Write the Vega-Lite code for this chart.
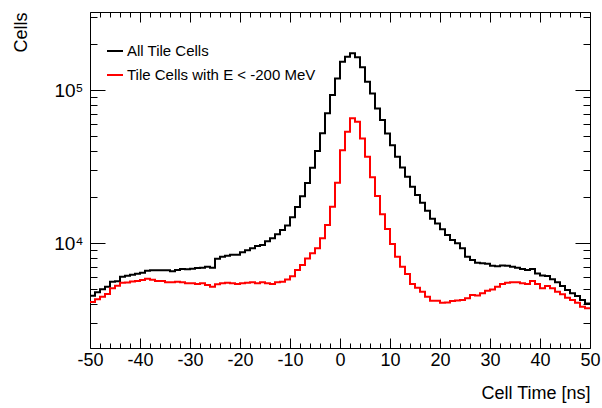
{
  "$schema": "https://vega.github.io/schema/vega-lite/v6.json",
  "width": 500,
  "height": 336,
  "autosize": {"type": "none"},
  "padding": {"left": 90, "top": 12, "right": 12, "bottom": 60},
  "background": "white",
  "config": {
    "view": {"stroke": "black", "strokeWidth": 1},
    "font": "Liberation Sans",
    "axis": {"domain": false, "grid": false, "tickColor": "black", "tickWidth": 1, "labelColor": "black", "titleColor": "black", "labelFont": "Liberation Sans", "titleFont": "Liberation Sans", "titleFontWeight": "normal", "labelOverlap": false, "labelBound": false, "labelFlush": false}
  },
  "data": {
    "values": [
      {"t": -50, "series": "All Tile Cells", "n": 4550},
      {"t": -49, "series": "All Tile Cells", "n": 4790},
      {"t": -48, "series": "All Tile Cells", "n": 5020},
      {"t": -47, "series": "All Tile Cells", "n": 5200},
      {"t": -46, "series": "All Tile Cells", "n": 5610},
      {"t": -45, "series": "All Tile Cells", "n": 5650},
      {"t": -44, "series": "All Tile Cells", "n": 6050},
      {"t": -43, "series": "All Tile Cells", "n": 6140},
      {"t": -42, "series": "All Tile Cells", "n": 6230},
      {"t": -41, "series": "All Tile Cells", "n": 6330},
      {"t": -40, "series": "All Tile Cells", "n": 6420},
      {"t": -39, "series": "All Tile Cells", "n": 6620},
      {"t": -38, "series": "All Tile Cells", "n": 6660},
      {"t": -37, "series": "All Tile Cells", "n": 6660},
      {"t": -36, "series": "All Tile Cells", "n": 6660},
      {"t": -35, "series": "All Tile Cells", "n": 6660},
      {"t": -34, "series": "All Tile Cells", "n": 6560},
      {"t": -33, "series": "All Tile Cells", "n": 6690},
      {"t": -32, "series": "All Tile Cells", "n": 6790},
      {"t": -31, "series": "All Tile Cells", "n": 6760},
      {"t": -30, "series": "All Tile Cells", "n": 6830},
      {"t": -29, "series": "All Tile Cells", "n": 6900},
      {"t": -28, "series": "All Tile Cells", "n": 6930},
      {"t": -27, "series": "All Tile Cells", "n": 7040},
      {"t": -26, "series": "All Tile Cells", "n": 6930},
      {"t": -25, "series": "All Tile Cells", "n": 7930},
      {"t": -24, "series": "All Tile Cells", "n": 8180},
      {"t": -23, "series": "All Tile Cells", "n": 8300},
      {"t": -22, "series": "All Tile Cells", "n": 8420},
      {"t": -21, "series": "All Tile Cells", "n": 8420},
      {"t": -20, "series": "All Tile Cells", "n": 8730},
      {"t": -19, "series": "All Tile Cells", "n": 9000},
      {"t": -18, "series": "All Tile Cells", "n": 9270},
      {"t": -17, "series": "All Tile Cells", "n": 9600},
      {"t": -16, "series": "All Tile Cells", "n": 9750},
      {"t": -15, "series": "All Tile Cells", "n": 10300},
      {"t": -14, "series": "All Tile Cells", "n": 10780},
      {"t": -13, "series": "All Tile Cells", "n": 11450},
      {"t": -12, "series": "All Tile Cells", "n": 12200},
      {"t": -11, "series": "All Tile Cells", "n": 13100},
      {"t": -10, "series": "All Tile Cells", "n": 14800},
      {"t": -9, "series": "All Tile Cells", "n": 17300},
      {"t": -8, "series": "All Tile Cells", "n": 20300},
      {"t": -7, "series": "All Tile Cells", "n": 24800},
      {"t": -6, "series": "All Tile Cells", "n": 31200},
      {"t": -5, "series": "All Tile Cells", "n": 40100},
      {"t": -4, "series": "All Tile Cells", "n": 52400},
      {"t": -3, "series": "All Tile Cells", "n": 70800},
      {"t": -2, "series": "All Tile Cells", "n": 93100},
      {"t": -1, "series": "All Tile Cells", "n": 119700},
      {"t": 0, "series": "All Tile Cells", "n": 153800},
      {"t": 1, "series": "All Tile Cells", "n": 165800},
      {"t": 2, "series": "All Tile Cells", "n": 174600},
      {"t": 3, "series": "All Tile Cells", "n": 164500},
      {"t": 4, "series": "All Tile Cells", "n": 141300},
      {"t": 5, "series": "All Tile Cells", "n": 113800},
      {"t": 6, "series": "All Tile Cells", "n": 95500},
      {"t": 7, "series": "All Tile Cells", "n": 76200},
      {"t": 8, "series": "All Tile Cells", "n": 63900},
      {"t": 9, "series": "All Tile Cells", "n": 52200},
      {"t": 10, "series": "All Tile Cells", "n": 43700},
      {"t": 11, "series": "All Tile Cells", "n": 36800},
      {"t": 12, "series": "All Tile Cells", "n": 31300},
      {"t": 13, "series": "All Tile Cells", "n": 27200},
      {"t": 14, "series": "All Tile Cells", "n": 23400},
      {"t": 15, "series": "All Tile Cells", "n": 20700},
      {"t": 16, "series": "All Tile Cells", "n": 18400},
      {"t": 17, "series": "All Tile Cells", "n": 16300},
      {"t": 18, "series": "All Tile Cells", "n": 14500},
      {"t": 19, "series": "All Tile Cells", "n": 13500},
      {"t": 20, "series": "All Tile Cells", "n": 12350},
      {"t": 21, "series": "All Tile Cells", "n": 11330},
      {"t": 22, "series": "All Tile Cells", "n": 10500},
      {"t": 23, "series": "All Tile Cells", "n": 10000},
      {"t": 24, "series": "All Tile Cells", "n": 9270},
      {"t": 25, "series": "All Tile Cells", "n": 8180},
      {"t": 26, "series": "All Tile Cells", "n": 7780},
      {"t": 27, "series": "All Tile Cells", "n": 7470},
      {"t": 28, "series": "All Tile Cells", "n": 7400},
      {"t": 29, "series": "All Tile Cells", "n": 7350},
      {"t": 30, "series": "All Tile Cells", "n": 7140},
      {"t": 31, "series": "All Tile Cells", "n": 7080},
      {"t": 32, "series": "All Tile Cells", "n": 7170},
      {"t": 33, "series": "All Tile Cells", "n": 7140},
      {"t": 34, "series": "All Tile Cells", "n": 7040},
      {"t": 35, "series": "All Tile Cells", "n": 6930},
      {"t": 36, "series": "All Tile Cells", "n": 6790},
      {"t": 37, "series": "All Tile Cells", "n": 6690},
      {"t": 38, "series": "All Tile Cells", "n": 6790},
      {"t": 39, "series": "All Tile Cells", "n": 6360},
      {"t": 40, "series": "All Tile Cells", "n": 6170},
      {"t": 41, "series": "All Tile Cells", "n": 6120},
      {"t": 42, "series": "All Tile Cells", "n": 5820},
      {"t": 43, "series": "All Tile Cells", "n": 5560},
      {"t": 44, "series": "All Tile Cells", "n": 5260},
      {"t": 45, "series": "All Tile Cells", "n": 4950},
      {"t": 46, "series": "All Tile Cells", "n": 4710},
      {"t": 47, "series": "All Tile Cells", "n": 4520},
      {"t": 48, "series": "All Tile Cells", "n": 4260},
      {"t": 49, "series": "All Tile Cells", "n": 4050},
      {"t": 50, "series": "All Tile Cells", "n": 4050},
      {"t": -50, "series": "Tile Cells with E < -200 MeV", "n": 4130},
      {"t": -49, "series": "Tile Cells with E < -200 MeV", "n": 4310},
      {"t": -48, "series": "Tile Cells with E < -200 MeV", "n": 4480},
      {"t": -47, "series": "Tile Cells with E < -200 MeV", "n": 4660},
      {"t": -46, "series": "Tile Cells with E < -200 MeV", "n": 5080},
      {"t": -45, "series": "Tile Cells with E < -200 MeV", "n": 5290},
      {"t": -44, "series": "Tile Cells with E < -200 MeV", "n": 5520},
      {"t": -43, "series": "Tile Cells with E < -200 MeV", "n": 5540},
      {"t": -42, "series": "Tile Cells with E < -200 MeV", "n": 5640},
      {"t": -41, "series": "Tile Cells with E < -200 MeV", "n": 5680},
      {"t": -40, "series": "Tile Cells with E < -200 MeV", "n": 5760},
      {"t": -39, "series": "Tile Cells with E < -200 MeV", "n": 5870},
      {"t": -38, "series": "Tile Cells with E < -200 MeV", "n": 5780},
      {"t": -37, "series": "Tile Cells with E < -200 MeV", "n": 5680},
      {"t": -36, "series": "Tile Cells with E < -200 MeV", "n": 5680},
      {"t": -35, "series": "Tile Cells with E < -200 MeV", "n": 5560},
      {"t": -34, "series": "Tile Cells with E < -200 MeV", "n": 5560},
      {"t": -33, "series": "Tile Cells with E < -200 MeV", "n": 5600},
      {"t": -32, "series": "Tile Cells with E < -200 MeV", "n": 5560},
      {"t": -31, "series": "Tile Cells with E < -200 MeV", "n": 5480},
      {"t": -30, "series": "Tile Cells with E < -200 MeV", "n": 5480},
      {"t": -29, "series": "Tile Cells with E < -200 MeV", "n": 5420},
      {"t": -28, "series": "Tile Cells with E < -200 MeV", "n": 5480},
      {"t": -27, "series": "Tile Cells with E < -200 MeV", "n": 5340},
      {"t": -26, "series": "Tile Cells with E < -200 MeV", "n": 5200},
      {"t": -25, "series": "Tile Cells with E < -200 MeV", "n": 5400},
      {"t": -24, "series": "Tile Cells with E < -200 MeV", "n": 5480},
      {"t": -23, "series": "Tile Cells with E < -200 MeV", "n": 5520},
      {"t": -22, "series": "Tile Cells with E < -200 MeV", "n": 5480},
      {"t": -21, "series": "Tile Cells with E < -200 MeV", "n": 5420},
      {"t": -20, "series": "Tile Cells with E < -200 MeV", "n": 5480},
      {"t": -19, "series": "Tile Cells with E < -200 MeV", "n": 5520},
      {"t": -18, "series": "Tile Cells with E < -200 MeV", "n": 5560},
      {"t": -17, "series": "Tile Cells with E < -200 MeV", "n": 5480},
      {"t": -16, "series": "Tile Cells with E < -200 MeV", "n": 5560},
      {"t": -15, "series": "Tile Cells with E < -200 MeV", "n": 5480},
      {"t": -14, "series": "Tile Cells with E < -200 MeV", "n": 5420},
      {"t": -13, "series": "Tile Cells with E < -200 MeV", "n": 5560},
      {"t": -12, "series": "Tile Cells with E < -200 MeV", "n": 5610},
      {"t": -11, "series": "Tile Cells with E < -200 MeV", "n": 5810},
      {"t": -10, "series": "Tile Cells with E < -200 MeV", "n": 6100},
      {"t": -9, "series": "Tile Cells with E < -200 MeV", "n": 6690},
      {"t": -8, "series": "Tile Cells with E < -200 MeV", "n": 7210},
      {"t": -7, "series": "Tile Cells with E < -200 MeV", "n": 7970},
      {"t": -6, "series": "Tile Cells with E < -200 MeV", "n": 8600},
      {"t": -5, "series": "Tile Cells with E < -200 MeV", "n": 9270},
      {"t": -4, "series": "Tile Cells with E < -200 MeV", "n": 10780},
      {"t": -3, "series": "Tile Cells with E < -200 MeV", "n": 13170},
      {"t": -2, "series": "Tile Cells with E < -200 MeV", "n": 17350},
      {"t": -1, "series": "Tile Cells with E < -200 MeV", "n": 24900},
      {"t": 0, "series": "Tile Cells with E < -200 MeV", "n": 40600},
      {"t": 1, "series": "Tile Cells with E < -200 MeV", "n": 53600},
      {"t": 2, "series": "Tile Cells with E < -200 MeV", "n": 65600},
      {"t": 3, "series": "Tile Cells with E < -200 MeV", "n": 62300},
      {"t": 4, "series": "Tile Cells with E < -200 MeV", "n": 48500},
      {"t": 5, "series": "Tile Cells with E < -200 MeV", "n": 36800},
      {"t": 6, "series": "Tile Cells with E < -200 MeV", "n": 27000},
      {"t": 7, "series": "Tile Cells with E < -200 MeV", "n": 20400},
      {"t": 8, "series": "Tile Cells with E < -200 MeV", "n": 15470},
      {"t": 9, "series": "Tile Cells with E < -200 MeV", "n": 12400},
      {"t": 10, "series": "Tile Cells with E < -200 MeV", "n": 9900},
      {"t": 11, "series": "Tile Cells with E < -200 MeV", "n": 8180},
      {"t": 12, "series": "Tile Cells with E < -200 MeV", "n": 7040},
      {"t": 13, "series": "Tile Cells with E < -200 MeV", "n": 6300},
      {"t": 14, "series": "Tile Cells with E < -200 MeV", "n": 5420},
      {"t": 15, "series": "Tile Cells with E < -200 MeV", "n": 5130},
      {"t": 16, "series": "Tile Cells with E < -200 MeV", "n": 4830},
      {"t": 17, "series": "Tile Cells with E < -200 MeV", "n": 4480},
      {"t": 18, "series": "Tile Cells with E < -200 MeV", "n": 4220},
      {"t": 19, "series": "Tile Cells with E < -200 MeV", "n": 4220},
      {"t": 20, "series": "Tile Cells with E < -200 MeV", "n": 4090},
      {"t": 21, "series": "Tile Cells with E < -200 MeV", "n": 4110},
      {"t": 22, "series": "Tile Cells with E < -200 MeV", "n": 4200},
      {"t": 23, "series": "Tile Cells with E < -200 MeV", "n": 4230},
      {"t": 24, "series": "Tile Cells with E < -200 MeV", "n": 4260},
      {"t": 25, "series": "Tile Cells with E < -200 MeV", "n": 4370},
      {"t": 26, "series": "Tile Cells with E < -200 MeV", "n": 4590},
      {"t": 27, "series": "Tile Cells with E < -200 MeV", "n": 4560},
      {"t": 28, "series": "Tile Cells with E < -200 MeV", "n": 4710},
      {"t": 29, "series": "Tile Cells with E < -200 MeV", "n": 4900},
      {"t": 30, "series": "Tile Cells with E < -200 MeV", "n": 5000},
      {"t": 31, "series": "Tile Cells with E < -200 MeV", "n": 5200},
      {"t": 32, "series": "Tile Cells with E < -200 MeV", "n": 5420},
      {"t": 33, "series": "Tile Cells with E < -200 MeV", "n": 5520},
      {"t": 34, "series": "Tile Cells with E < -200 MeV", "n": 5560},
      {"t": 35, "series": "Tile Cells with E < -200 MeV", "n": 5560},
      {"t": 36, "series": "Tile Cells with E < -200 MeV", "n": 5480},
      {"t": 37, "series": "Tile Cells with E < -200 MeV", "n": 5420},
      {"t": 38, "series": "Tile Cells with E < -200 MeV", "n": 5670},
      {"t": 39, "series": "Tile Cells with E < -200 MeV", "n": 5420},
      {"t": 40, "series": "Tile Cells with E < -200 MeV", "n": 5080},
      {"t": 41, "series": "Tile Cells with E < -200 MeV", "n": 5260},
      {"t": 42, "series": "Tile Cells with E < -200 MeV", "n": 5080},
      {"t": 43, "series": "Tile Cells with E < -200 MeV", "n": 4830},
      {"t": 44, "series": "Tile Cells with E < -200 MeV", "n": 4640},
      {"t": 45, "series": "Tile Cells with E < -200 MeV", "n": 4410},
      {"t": 46, "series": "Tile Cells with E < -200 MeV", "n": 4260},
      {"t": 47, "series": "Tile Cells with E < -200 MeV", "n": 4090},
      {"t": 48, "series": "Tile Cells with E < -200 MeV", "n": 3850},
      {"t": 49, "series": "Tile Cells with E < -200 MeV", "n": 3760},
      {"t": 50, "series": "Tile Cells with E < -200 MeV", "n": 3760}
    ]
  },
  "layer": [
    {
      "mark": {"type": "line", "interpolate": "step-after", "strokeWidth": 2, "clip": true},
      "encoding": {
        "x": {
          "field": "t", "type": "quantitative",
          "scale": {"domain": [-50, 50], "nice": false, "zero": false},
          "axis": {
            "orient": "bottom",
            "values": [-50,-48,-46,-44,-42,-40,-38,-36,-34,-32,-30,-28,-26,-24,-22,-20,-18,-16,-14,-12,-10,-8,-6,-4,-2,0,2,4,6,8,10,12,14,16,18,20,22,24,26,28,30,32,34,36,38,40,42,44,46,48,50],
            "labelExpr": "datum.value % 10 === 0 ? '' + datum.value : ''",
            "tickSize": {"condition": {"test": "datum.value % 10 === 0", "value": -10}, "value": -5},
            "labelPadding": 13,
            "labelFontSize": 18,
            "title": "Cell Time [ns]",
            "titleFontSize": 18,
            "titleAnchor": "end",
            "titleAlign": "right",
            "titleBaseline": "middle",
            "titleX": 500,
            "titleY": 45
          }
        },
        "y": {
          "field": "n", "type": "quantitative",
          "scale": {"type": "log", "domain": [2070, 325000], "nice": false},
          "axis": {
            "orient": "left",
            "values": [3000,4000,5000,6000,7000,8000,9000,10000,20000,30000,40000,50000,60000,70000,80000,90000,100000,200000,300000],
            "labelExpr": "datum.value === 10000 ? '10⁴' : datum.value === 100000 ? '10⁵' : ''",
            "tickSize": {"condition": {"test": "datum.value === 10000 || datum.value === 100000", "value": -15}, "value": -7},
            "labelPadding": 22,
            "labelFontSize": 19,
            "title": "Cells",
            "titleFontSize": 18,
            "titleAngle": -90,
            "titleAlign": "right",
            "titleBaseline": "middle",
            "titleX": -69,
            "titleY": 0
          }
        },
        "color": {
          "field": "series", "type": "nominal",
          "scale": {"domain": ["All Tile Cells", "Tile Cells with E < -200 MeV"], "range": ["#000000", "#ff0000"]},
          "legend": {
            "orient": "none", "legendX": 16, "legendY": 30, "title": null, "padding": 0,
            "symbolType": "stroke", "symbolSize": 256, "symbolStrokeWidth": 2,
            "labelFontSize": 15, "labelFont": "Liberation Sans", "labelColor": "black", "labelLimit": 0,
            "labelOffset": 3, "rowPadding": 7, "direction": "vertical"
          }
        }
      }
    },
    {
      "mark": {"type": "line", "opacity": 0},
      "encoding": {
        "x": {
          "field": "t", "type": "quantitative",
          "axis": {
            "orient": "top", "labels": false, "title": null,
            "values": [-50,-48,-46,-44,-42,-40,-38,-36,-34,-32,-30,-28,-26,-24,-22,-20,-18,-16,-14,-12,-10,-8,-6,-4,-2,0,2,4,6,8,10,12,14,16,18,20,22,24,26,28,30,32,34,36,38,40,42,44,46,48,50],
            "tickSize": {"condition": {"test": "datum.value % 10 === 0", "value": -10}, "value": -5}
          }
        },
        "y": {
          "field": "n", "type": "quantitative",
          "axis": {
            "orient": "right", "labels": false, "title": null,
            "values": [3000,4000,5000,6000,7000,8000,9000,10000,20000,30000,40000,50000,60000,70000,80000,90000,100000,200000,300000],
            "tickSize": {"condition": {"test": "datum.value === 10000 || datum.value === 100000", "value": -15}, "value": -7}
          }
        },
        "detail": {"field": "series", "type": "nominal"}
      }
    }
  ],
  "resolve": {"axis": {"x": "independent", "y": "independent"}}
}
